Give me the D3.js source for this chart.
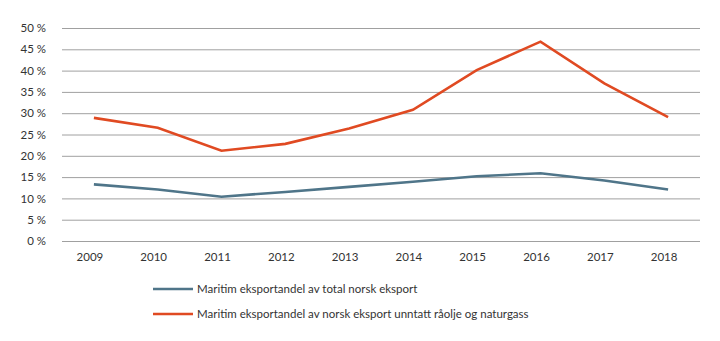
<!DOCTYPE html>
<html>
<head>
<meta charset="utf-8">
<script src="https://cdn.jsdelivr.net/npm/d3@7"></script>
<style>
  body { margin: 0; background: #fff; }
  text { font-family: Lato, "Open Sans", sans-serif; fill: #333; }
</style>
</head>
<body>
<svg width="720" height="341"></svg>
<script>
const years = ['2009', '2010', '2011', '2012', '2013', '2014', '2015', '2016', '2017', '2018'];
const totalShare = [13.3, 12.1, 10.4, 11.5, 12.7, 13.9, 15.2, 15.9, 14.2, 12.1];
const exclOilGasShare = [28.9, 26.6, 21.2, 22.8, 26.4, 30.8, 40.1, 46.8, 37.0, 29.1];
const yTicks = [0, 5, 10, 15, 20, 25, 30, 35, 40, 45, 50];
const seriesNames = [
  'Maritim eksportandel av total norsk eksport',
  'Maritim eksportandel av norsk eksport unntatt råolje og naturgass'
];
const colors = ['#4f7589', '#e04a22'];

const svg = d3.select('svg');
const margin = {top: 28, right: 20, bottom: 100, left: 62};
const width = 720 - margin.left - margin.right;
const height = 341 - margin.top - margin.bottom;
const g = svg.append('g')
  .attr('transform', `translate(${margin.left},${margin.top})`);

const x = d3.scaleBand()
  .domain(years)
  .range([0, width]);

const y = d3.scaleLinear()
  .domain([0, 50])
  .range([height, 0]);

// gridlines + y labels
g.append('g')
  .call(d3.axisLeft(y)
    .tickValues(yTicks)
    .tickSize(-width)
    .tickPadding(16)
    .tickFormat(d => d + ' %'))
  .call(a => a.select('.domain').remove())
  .call(a => a.selectAll('line').attr('stroke', '#a0a0a0'))
  .call(a => a.selectAll('text').attr('font-size', 11.5).attr('fill', '#333'));

// x labels
g.append('g')
  .attr('transform', `translate(0,${height})`)
  .call(d3.axisBottom(x).tickSize(0).tickPadding(12))
  .call(a => a.select('.domain').remove())
  .call(a => a.selectAll('text').attr('font-size', 11.5).attr('fill', '#333').attr('dx', -4));

const line = d3.line()
  .x((d, i) => x(years[i]) + x.bandwidth() / 2)
  .y(d => y(d));

[totalShare, exclOilGasShare].forEach((s, i) => {
  g.append('path')
    .datum(s)
    .attr('fill', 'none')
    .attr('stroke', colors[i])
    .attr('stroke-width', 2.6)
    .attr('d', line);
});

// legend
const legend = svg.append('g')
  .attr('transform', 'translate(153,289)');

seriesNames.forEach((name, i) => {
  const row = legend.append('g').attr('transform', `translate(0,${i * 25})`);
  row.append('line')
    .attr('x1', 0).attr('x2', 40)
    .attr('stroke', colors[i])
    .attr('stroke-width', 2.6);
  row.append('text')
    .attr('x', 44)
    .attr('dy', '0.35em')
    .attr('font-size', 11.5)
    .text(name);
});
</script>
</body>
</html>
